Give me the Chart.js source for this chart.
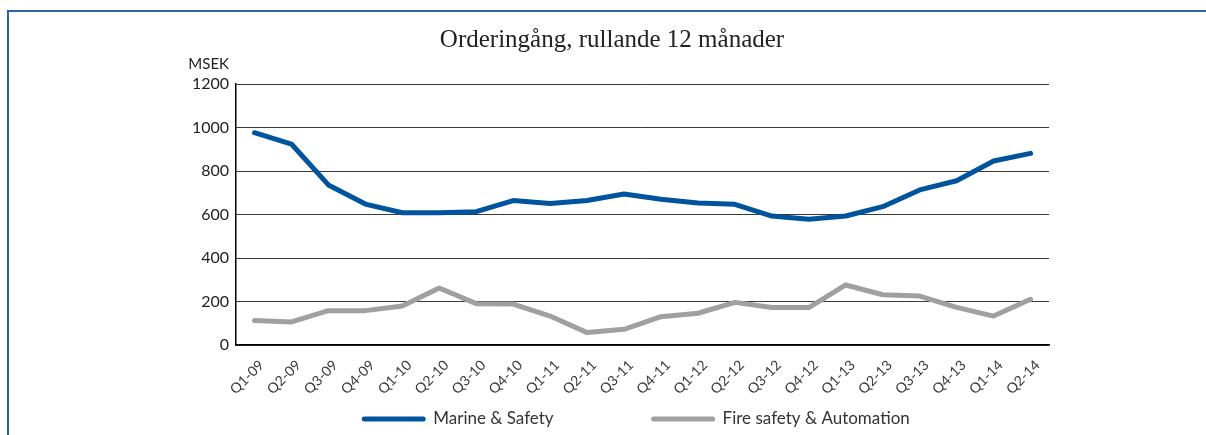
<!DOCTYPE html>
<html>
<head>
<meta charset="utf-8">
<script src="https://cdn.jsdelivr.net/npm/chart.js@4/dist/chart.umd.min.js"></script>
<style>
  html, body { margin: 0; padding: 0; background: #fff; }
  #wrap { position: relative; width: 1206px; height: 435px; overflow: hidden; }
  #frame { position: absolute; left: 7px; top: 10px; width: 1210px; height: 440px;
           border-top: 2px solid #2a62a5; border-left: 2px solid #2a62a5; pointer-events: none; }
  canvas { position: absolute; left: 0; top: 0; }
</style>
</head>
<body>
<div id="wrap">
  <canvas id="c" width="1206" height="435"></canvas>
  <div id="frame"></div>
</div>
<script>
const categories = ["Q1-09","Q2-09","Q3-09","Q4-09","Q1-10","Q2-10","Q3-10","Q4-10","Q1-11","Q2-11","Q3-11",
                    "Q4-11","Q1-12","Q2-12","Q3-12","Q4-12","Q1-13","Q2-13","Q3-13","Q4-13","Q1-14","Q2-14"];
const marineSafety = [976, 924, 736, 648, 608, 608, 613, 664, 651, 664, 694,
                      670, 653, 647, 593, 578, 593, 636, 713, 755, 846, 881];
const fireSafetyAutomation = [113, 106, 158, 158, 179, 262, 190, 188, 133, 57, 72,
                              130, 146, 196, 172, 172, 276, 231, 225, 173, 133, 210];
const seriesNames = ["Marine & Safety", "Fire safety & Automation"];
const titleText = "Orderingång, rullande 12 månader";
const unitLabel = "MSEK";
const yTicks = [0, 200, 400, 600, 800, 1000, 1200];

const sansFont = "Lato, 'Open Sans', sans-serif";

const extras = {
  id: 'extras',
  afterDraw(chart) {
    const ctx = chart.ctx;
    ctx.save();
    // title
    ctx.font = "25px 'Liberation Serif', 'DejaVu Serif', serif";
    ctx.fillStyle = "#222";
    ctx.textAlign = "center";
    ctx.textBaseline = "middle";
    ctx.fillText(titleText, 612, 40);
    // unit label
    ctx.font = "15px " + sansFont;
    ctx.fillStyle = "#222";
    ctx.textAlign = "right";
    ctx.textBaseline = "middle";
    ctx.fillText(unitLabel, 229, 64);
    // legend
    ctx.font = "17px " + sansFont;
    const lineW = 63, textGap = 8, itemGap = 98, ly = 419;
    const items = chart.data.datasets.map(d => ({
      label: d.label, color: d.borderColor, w: lineW + textGap + ctx.measureText(d.label).width
    }));
    const total = items.reduce((s, it) => s + it.w, 0) + itemGap * (items.length - 1);
    let x = 636 - total / 2;
    items.forEach(it => {
      ctx.strokeStyle = it.color;
      ctx.lineWidth = 5;
      ctx.lineCap = "round";
      ctx.beginPath();
      ctx.moveTo(x + 2, ly);
      ctx.lineTo(x + lineW - 2, ly);
      ctx.stroke();
      ctx.fillStyle = "#333";
      ctx.textAlign = "left";
      ctx.textBaseline = "middle";
      ctx.fillText(it.label, x + lineW + textGap, ly);
      x += it.w + itemGap;
    });
    ctx.restore();
  }
};

new Chart(document.getElementById('c'), {
  type: 'line',
  data: {
    labels: categories,
    datasets: [
      { label: seriesNames[0], data: marineSafety, borderColor: '#00549e', backgroundColor: '#00549e',
        borderWidth: 5, pointRadius: 0, tension: 0, borderCapStyle: 'round', borderJoinStyle: 'round' },
      { label: seriesNames[1], data: fireSafetyAutomation, borderColor: '#a0a0a0', backgroundColor: '#a0a0a0',
        borderWidth: 5, pointRadius: 0, tension: 0, borderCapStyle: 'round', borderJoinStyle: 'round' }
    ]
  },
  options: {
    responsive: false,
    animation: false,
    layout: { padding: { top: 84, left: 0, right: 157, bottom: 40 } },
    plugins: {
      legend: { display: false },
      tooltip: { enabled: false },
      title: { display: false }
    },
    scales: {
      x: {
        offset: true,
        grid: { display: false },
        border: { display: true, color: '#000', width: 1.5 },
        ticks: { autoSkip: false, maxRotation: 45, minRotation: 45, padding: 4, labelOffset: 7, color: '#3a3a3a',
                 font: { family: sansFont, size: 14 } },
        afterFit(scale) { scale.height = 50; }
      },
      y: {
        min: 0, max: 1200,
        afterBuildTicks(scale) { scale.ticks = yTicks.map(v => ({ value: v })); },
        grid: { color: '#3a3a3a', lineWidth: 1, drawTicks: false },
        border: { display: true, color: '#000', width: 1.5 },
        ticks: { padding: 7, color: '#222', font: { family: sansFont, size: 16 },
                 callback: (v) => String(v) },
        afterFit(scale) { scale.width = 236; }
      }
    }
  },
  plugins: [extras]
});
</script>
</body>
</html>
